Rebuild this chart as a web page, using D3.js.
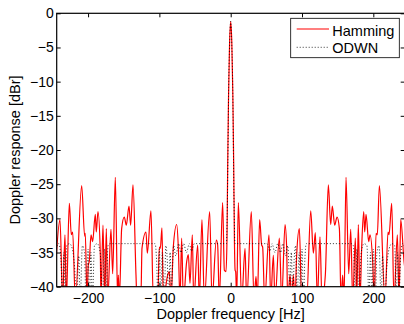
<!DOCTYPE html>
<html>
<head>
<meta charset="utf-8">
<script src="https://cdn.jsdelivr.net/npm/d3@7"></script>
<style>
  body { margin: 0; background: #fff; }
  svg { display: block; font-family: "Liberation Sans", Arial, sans-serif; }
</style>
</head>
<body>
<svg id="chart"></svg>
<script>
// Doppler response values: [frequency Hz, response dBr]
// (values below -40 are nulls that fall out of the axes)
const hamming = [
  [-245, -36.3], [-239.4, -30.2], [-235.7, -42], [-232.4, -32.4], [-230.5, -42],
  [-226.3, -27.8], [-223.5, -32.4], [-221.6, -32.0], [-217.9, -42], [-209.0, -25.2],
  [-204.8, -32.6], [-203.9, -32.2], [-201.5, -42], [-199.7, -36.8], [-198.3, -36.3],
  [-195.9, -32.4], [-193.6, -33.4], [-189.9, -29.4], [-188.5, -32.0], [-186.1, -29.0],
  [-182.8, -35.4], [-181.9, -42], [-179.1, -31.0], [-176.7, -42], [-174.4, -31.5],
  [-172.5, -42], [-167.9, -31.6], [-165.5, -38.1], [-161.8, -24.0], [-158.5, -42],
  [-157.6, -38.3], [-156.2, -42], [-152.9, -31.5], [-149.2, -29.8], [-146.4, -31.0],
  [-142.6, -28.2], [-140.3, -31.0], [-137.0, -25.1], [-132.8, -38.3], [-131.4, -42],
  [-126.0, -42], [-124.4, -34.4], [-118.8, -32.0], [-116.9, -35.1], [-111.8, -28.9],
  [-108.5, -42], [-102.4, -42], [-100.1, -34.2], [-98.7, -34.4], [-96.4, -31.4],
  [-94.5, -42], [-88.4, -38.3], [-86.1, -37.8], [-83.7, -42], [-80.5, -34.2],
  [-75.7, -30.9], [-73.4, -34.4], [-71.1, -42], [-68.8, -32.9], [-66.4, -42],
  [-61.7, -36.3], [-59.4, -35.3], [-57.1, -39.5], [-53.8, -32.4], [-51.9, -42],
  [-46.3, -33.9], [-44.0, -42], [-40.3, -30.2], [-37.0, -42], [-29.5, -29.0],
  [-26.2, -42], [-20.2, -33.2], [-18.3, -33.9], [-16.0, -42], [-11.3, -27.7],
  [-8.9, -37.6], [-6.6, -37.8], [-5.2, -33], [-4.2, -22], [-3.0, -12],
  [-1.6, -4.5], [0, -1.2], [1.6, -4.5], [3.0, -12], [4.2, -22],
  [5.2, -33], [6.2, -37.6], [7.0, -37.8], [8.4, -42], [10.7, -27.7],
  [15.4, -42], [20.1, -34.4], [22.4, -42], [28.9, -29.0], [32.7, -42],
  [35.5, -38.5], [37.3, -42], [40.6, -30.2], [43.4, -33.9], [44.8, -34.2],
  [47.6, -42], [53.7, -32.4], [56.1, -42], [59.8, -35.4], [62.1, -42],
  [68.2, -32.9], [71.5, -42], [76.2, -30.9], [78.5, -34.4], [79.9, -42],
  [83.2, -38.3], [85.5, -42], [87.8, -38.3], [90.2, -42], [92.5, -35.4],
  [96.3, -31.5], [99.5, -42], [106.5, -42], [112.2, -28.9], [115.9, -35.1],
  [118.7, -32.1], [121.5, -42], [125.2, -32.7], [128.0, -42], [132.7, -38.3],
  [136.9, -25.1], [140.2, -30.9], [142.5, -28.2], [145.8, -31.0], [149.1, -29.8],
  [152.4, -31.5], [154.7, -42], [157.0, -38.3], [158.9, -42], [161.7, -24.0],
  [165.5, -38.1], [168.3, -31.6], [171.1, -42], [174.8, -32.9], [176.7, -42],
  [179.0, -30.9], [181.3, -42], [183.7, -34.2], [186.5, -29.0], [187.9, -32.0],
  [189.8, -29.4], [193.5, -33.4], [195.4, -32.4], [199.1, -36.3], [201.4, -42],
  [203.8, -32.2], [205.6, -32.4], [208.5, -25.2], [216.4, -42], [220.6, -32.0],
  [222.0, -32.4], [225.8, -27.8], [229.0, -42], [233.7, -32.4], [236.1, -42],
  [238.4, -30.2], [243.1, -36.3], [245, -38]
];

const odwn = [
  [-245, -34.5], [-241, -33.7], [-238, -36], [-236, -42], [-234, -35], [-232, -42],
  [-230, -34], [-226, -33.7], [-222, -34.5], [-219, -37], [-216, -42], [-213, -35.5],
  [-211, -42], [-208, -34], [-205, -35], [-203, -42], [-200, -34.5], [-198, -42],
  [-196, -35], [-194, -42], [-191, -34], [-187, -33.7], [-183, -35], [-180, -42],
  [-177, -34.5], [-175, -42], [-172, -34], [-169, -33.7], [-106, -33.7], [-104, -36],
  [-102, -42], [-100, -34.5], [-98, -42], [-96, -35], [-93, -42], [-91, -34],
  [-89, -36], [-87, -42], [-85, -35], [-83, -40], [-80, -34], [-77, -35.5],
  [-73, -33.7], [-70, -35], [-66, -33.7], [-62, -35], [-58, -33.7], [-55, -34.8],
  [-51, -33.7], [-6, -33.7], [-5, -30], [-4, -22], [-3, -12], [-1.5, -4.5],
  [0, -1.2], [1.5, -4.5], [3, -12], [4, -22], [5, -30], [6, -33.7],
  [51, -33.7], [55, -34.8], [58, -33.7], [62, -35], [66, -33.7], [70, -35],
  [73, -33.7], [77, -35.5], [80, -34], [83, -40], [85, -35], [87, -42],
  [89, -36], [91, -34], [93, -42], [96, -35], [98, -42], [100, -34.5],
  [102, -42], [104, -36], [106, -33.7], [169, -33.7], [172, -34], [175, -42],
  [177, -34.5], [180, -42], [183, -35], [187, -33.7], [191, -34], [194, -42],
  [196, -35], [198, -42], [200, -34.5], [203, -42], [205, -35], [208, -34],
  [211, -42], [213, -35.5], [216, -42], [219, -37], [222, -34.5], [226, -33.7],
  [230, -34], [232, -42], [234, -35], [236, -42], [238, -36], [241, -33.7],
  [245, -34.5]
];

const xTicks = [-200, -100, 0, 100, 200];
const yTicks = [0, -5, -10, -15, -20, -25, -30, -35, -40];
const legendItems = ["Hamming", "ODWN"];

const width = 404, height = 324;
const margin = {left: 56.7, right: -0.7, top: 13.3, bottom: 37.3};
const iw = width - margin.left - margin.right;
const ih = height - margin.top - margin.bottom;

const svg = d3.select("#chart")
  .attr("width", width)
  .attr("height", height);

const g = svg.append("g")
  .attr("transform", `translate(${margin.left},${margin.top})`);

const x = d3.scaleLinear().domain([-244, 244]).range([0, iw]);
const y = d3.scaleLinear().domain([-40, 0]).range([ih, 0]);

g.append("clipPath").attr("id", "plotclip")
  .append("rect").attr("width", iw).attr("height", ih);

const line = d3.line()
  .x(d => x(d[0]))
  .y(d => y(d[1]))
  .curve(d3.curveMonotoneX);

const plot = g.append("g").attr("clip-path", "url(#plotclip)");

plot.append("path")
  .datum(hamming)
  .attr("d", line)
  .attr("fill", "none")
  .attr("stroke", "#ff0000")
  .attr("stroke-width", 1.2);

plot.append("path")
  .datum(odwn)
  .attr("d", line)
  .attr("fill", "none")
  .attr("stroke", "#000")
  .attr("stroke-width", 0.8)
  .attr("stroke-dasharray", "1,2");

// axes: ticks pointing inwards on all four sides
const styleAxis = sel => {
  sel.select(".domain").remove();
  sel.selectAll(".tick line").attr("stroke", "#000");
  sel.selectAll(".tick text")
    .attr("fill", "#000")
    .style("font-size", "14px")
    .style("font-family", "\"Liberation Sans\", Arial, sans-serif");
};

g.append("g")
  .attr("transform", `translate(0,${ih})`)
  .call(d3.axisBottom(x).tickValues(xTicks).tickSize(-4).tickPadding(6))
  .call(styleAxis);

g.append("g")
  .call(d3.axisTop(x).tickValues(xTicks).tickSize(-4).tickFormat(""))
  .call(styleAxis);

g.append("g")
  .call(d3.axisLeft(y).tickValues(yTicks).tickSize(-4).tickPadding(3))
  .call(styleAxis);

g.append("g")
  .attr("transform", `translate(${iw},0)`)
  .call(d3.axisRight(y).tickValues(yTicks).tickSize(-4).tickFormat(""))
  .call(styleAxis);

g.append("rect")
  .attr("width", iw)
  .attr("height", ih)
  .attr("fill", "none")
  .attr("stroke", "#000")
  .attr("stroke-width", 1.2);

// axis labels
svg.append("text")
  .attr("x", margin.left + x(0))
  .attr("y", 319)
  .attr("text-anchor", "middle")
  .style("font-size", "14.5px")
  .text("Doppler frequency [Hz]");

svg.append("text")
  .attr("transform", `translate(20,${margin.top + ih / 2}) rotate(-90)`)
  .attr("text-anchor", "middle")
  .style("font-size", "14.5px")
  .text("Doppler response [dBr]");

// legend
const legend = svg.append("g").attr("transform", "translate(290.7,18.3)");
legend.append("rect")
  .attr("width", 108.6)
  .attr("height", 39.4)
  .attr("fill", "#fff")
  .attr("stroke", "#000")
  .attr("stroke-width", 0.8);

legend.selectAll("line.key")
  .data(legendItems)
  .enter()
  .append("line")
  .attr("class", "key")
  .attr("x1", 6)
  .attr("x2", 38.3)
  .attr("y1", (d, i) => 10.7 + i * 18.3)
  .attr("y2", (d, i) => 10.7 + i * 18.3)
  .attr("stroke", (d, i) => i === 0 ? "#ff0000" : "#000")
  .attr("stroke-width", (d, i) => i === 0 ? 1.2 : 0.8)
  .attr("stroke-dasharray", (d, i) => i === 0 ? null : "1,2");

legend.selectAll("text")
  .data(legendItems)
  .enter()
  .append("text")
  .attr("x", 41.6)
  .attr("y", (d, i) => 17.4 + i * 17.6)
  .style("font-size", "14.5px")
  .text(d => d);
</script>
</body>
</html>
